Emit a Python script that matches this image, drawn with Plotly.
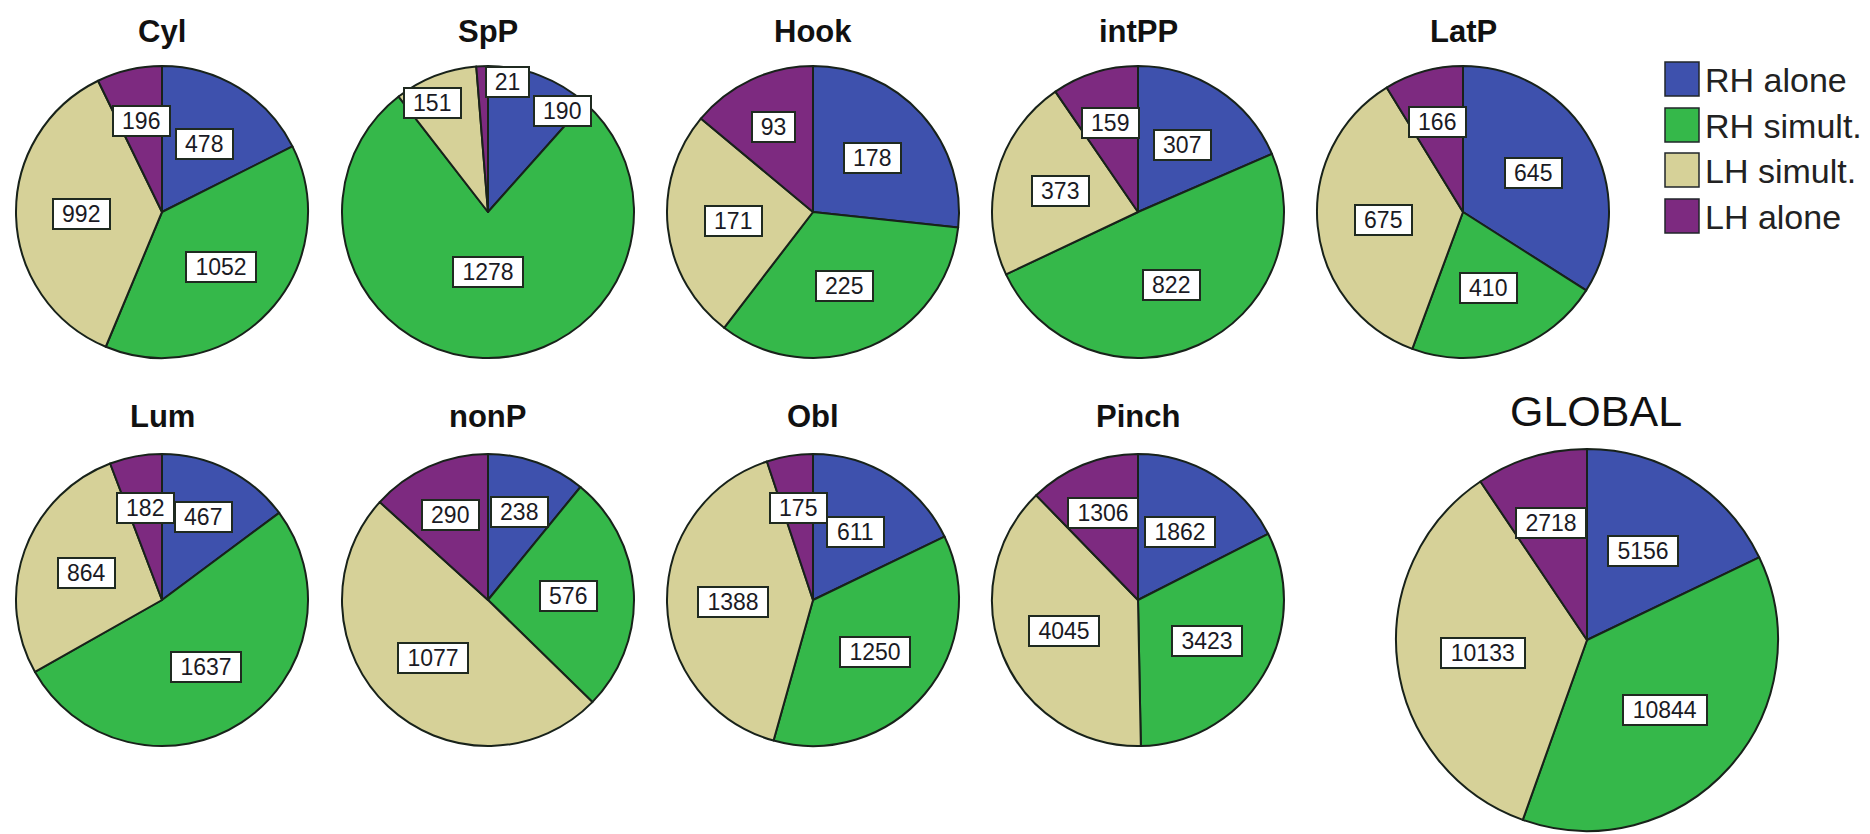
import math

import plotly.graph_objects as go

# ---- data -------------------------------------------------------------
CATEGORIES = ["RH alone", "RH simult.", "LH simult.", "LH alone"]
COLORS = ["#3e51ad", "#35b84a", "#d6d198", "#7d2a80"]

CHARTS = ["Cyl", "SpP", "Hook", "intPP", "LatP",
          "Lum", "nonP", "Obl", "Pinch", "GLOBAL"]

cyl = [478, 1052, 992, 196]
spp = [190, 1278, 151, 21]
hook = [178, 225, 171, 93]
intpp = [307, 822, 373, 159]
latp = [645, 410, 675, 166]
lum = [467, 1637, 864, 182]
nonp = [238, 576, 1077, 290]
obl = [611, 1250, 1388, 175]
pinch = [1862, 3423, 4045, 1306]
global_all = [5156, 10844, 10133, 2718]

VALUES = [cyl, spp, hook, intpp, latp, lum, nonp, obl, pinch, global_all]

# ---- layout (pixels on a 1870 x 834 page) ----------------------------
W, H = 1870, 834
COL_X = [162, 488, 813, 1138, 1463]
ROW_Y = [212, 600]
R_SMALL = 146
GLOBAL_CENTER = (1587, 640)
R_GLOBAL = 191
TITLE_Y = [32, 416]

# label placement: (angle from 12 o'clock clockwise, fraction of radius)
LABEL_OVERRIDE = {
    ("SpP", "RH alone"): (36.6, 0.86),
    ("SpP", "RH simult."): (180.0, 0.41),
    ("SpP", "LH simult."): (333.0, 0.84),
    ("SpP", "LH alone"): (8.7, 0.90),
}

FONT = "Liberation Sans, Arial, Helvetica, sans-serif"
EDGE = "#18221a"


def px(x):
    return x / W


def py(y):
    return 1 - y / H


def geometry(i):
    if i < 9:
        return COL_X[i % 5], ROW_Y[i // 5], R_SMALL
    return GLOBAL_CENTER[0], GLOBAL_CENTER[1], R_GLOBAL


fig = go.Figure()
annotations = []

for i, (name, vals) in enumerate(zip(CHARTS, VALUES)):
    cx, cy, r = geometry(i)
    fig.add_trace(go.Pie(
        labels=CATEGORIES,
        values=vals,
        sort=False,
        direction="clockwise",
        rotation=0,
        marker=dict(colors=COLORS, line=dict(color=EDGE, width=2)),
        textinfo="none",
        hoverinfo="label+value",
        showlegend=False,
        domain=dict(x=[px(cx - r), px(cx + r)], y=[py(cy + r), py(cy - r)]),
        name=name,
    ))

    # chart title
    if name == "GLOBAL":
        annotations.append(dict(
            x=px(cx + 9), y=py(411), xref="paper", yref="paper",
            text=name, showarrow=False,
            font=dict(family=FONT, size=43, color="#111"),
            xanchor="center", yanchor="middle"))
    else:
        annotations.append(dict(
            x=px(cx), y=py(TITLE_Y[i // 5]), xref="paper", yref="paper",
            text=f"<b>{name}</b>", showarrow=False,
            font=dict(family=FONT, size=31, color="#111"),
            xanchor="center", yanchor="middle"))

    # value labels in white boxes
    total = sum(vals)
    cum = 0
    for cat, v in zip(CATEGORIES, vals):
        mid = 360.0 * (cum + v / 2) / total
        frac = v / total
        cum += v
        ang, rf = LABEL_OVERRIDE.get(
            (name, cat), (mid, 0.64 if frac < 0.15 else 0.55))
        a = math.radians(ang)
        lx = cx + rf * r * math.sin(a)
        ly = cy - rf * r * math.cos(a)
        txt = str(v)
        annotations.append(dict(
            x=px(lx), y=py(ly), xref="paper", yref="paper",
            text=txt, showarrow=False,
            font=dict(family=FONT, size=23, color="#1a1a24"),
            bgcolor="white", bordercolor="#1f2a20", borderwidth=2,
            borderpad=1, width=13.5 * len(txt) + 12,
            xanchor="center", yanchor="middle"))

# ---- legend -----------------------------------------------------------
LEG_X0 = 1665
LEG_SIZE = 34
LEG_Y = [79, 125, 170, 216]
shapes = []
for cat, col, yc in zip(CATEGORIES, COLORS, LEG_Y):
    shapes.append(dict(
        type="rect", xref="paper", yref="paper",
        x0=px(LEG_X0), x1=px(LEG_X0 + LEG_SIZE),
        y0=py(yc + LEG_SIZE / 2), y1=py(yc - LEG_SIZE / 2),
        fillcolor=col, line=dict(color="#20262a", width=1.5)))
    annotations.append(dict(
        x=px(LEG_X0 + LEG_SIZE + 4), y=py(yc + 1), xref="paper", yref="paper",
        text=cat, showarrow=False,
        font=dict(family=FONT, size=34, color="#222"),
        xanchor="left", yanchor="middle"))

fig.update_layout(
    width=W, height=H, autosize=False,
    margin=dict(l=0, r=0, t=0, b=0),
    paper_bgcolor="white", plot_bgcolor="white",
    annotations=annotations, shapes=shapes,
    showlegend=False,
)

fig.write_html("out.html")
